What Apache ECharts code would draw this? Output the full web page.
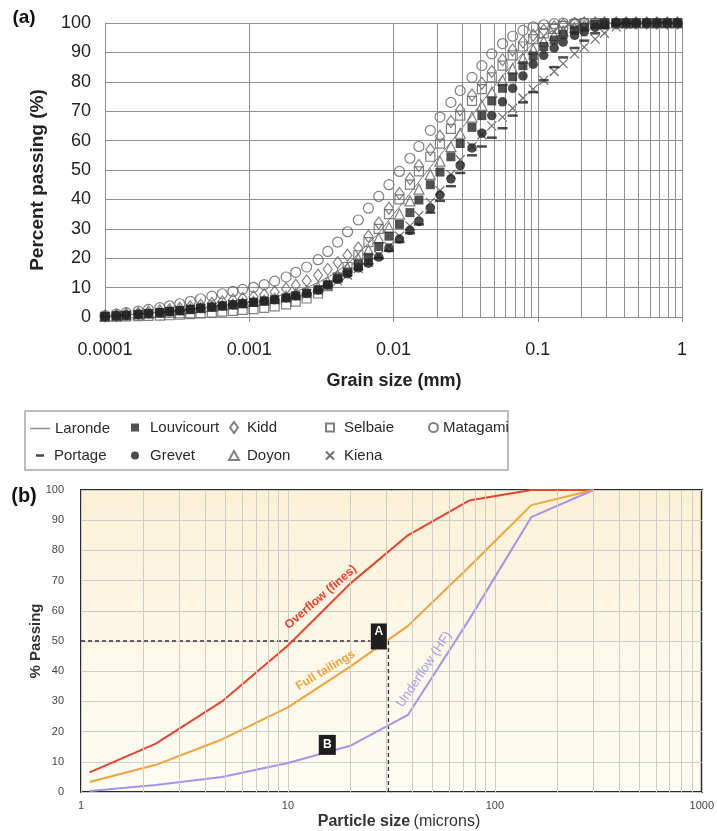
<!DOCTYPE html>
<html><head><meta charset="utf-8">
<script src="https://cdn.jsdelivr.net/npm/echarts@6/dist/echarts.min.js"></script>
<style>html,body{margin:0;padding:0;background:#fff}#c{width:717px;height:831px}</style>
</head><body><div id="c"></div><script>
// ---------- Panel (a): grain size distributions (mm, % passing) ----------
const sizesMm = [0.0001,0.00012,0.00014,0.00017,0.0002,0.00024,0.00028,0.00033,0.00039,0.00046,0.00055,0.00065,0.00077,0.0009,0.00107,0.00127,0.0015,0.0018,0.0021,0.0025,0.003,0.0035,0.0041,0.0048,0.0057,0.0067,0.0079,0.0093,0.011,0.013,0.015,0.018,0.021,0.025,0.029,0.035,0.041,0.048,0.057,0.067,0.079,0.093,0.11,0.13,0.15,0.18,0.21,0.25,0.29,0.35,0.41,0.48,0.57,0.67,0.79,0.93];
const laronde = [0.2,0.4,0.7,1,1.3,1.7,2,2.4,2.8,3.2,3.7,4.1,4.6,5,5.5,6.1,6.8,7.7,8.7,10,11.7,13.5,15.7,18,21.5,25,28.5,33,37.5,42,46,51,55,59.5,63.5,68.5,73,77.5,82,86,89.8,93,95.7,97.6,98.8,99.6,100,100,100,100,100,100,100,100,100,100];
const portage = [0.2,0.4,0.6,0.9,1.2,1.5,1.9,2.2,2.6,3,3.4,3.8,4.2,4.6,5,5.4,5.9,6.5,7.2,8,9,10.5,12.3,14.2,16.2,18,20,22.5,25.5,28.5,31.5,35.5,39.5,44.5,49,55,58,61,64.2,68.5,73,76.5,80.5,85,88.3,91.5,94,96.5,98.3,99.5,100,100,100,100,100,100];
const louvicourt = [0.2,0.4,0.6,0.9,1.2,1.5,1.9,2.2,2.6,3,3.4,3.8,4.2,4.6,5,5.4,5.9,6.5,7.2,8.1,9.3,11,13.3,15.3,18,20.3,24,27.5,31.5,35.5,39.8,45,49.3,54.5,59,64.5,68.5,73.5,77.8,81.7,85.5,88.8,92,94.2,96,97.6,98.6,99.5,100,100,100,100,100,100,100,100];
const grevet = [0.2,0.4,0.6,0.9,1.2,1.5,1.9,2.2,2.6,3,3.4,3.8,4.2,4.6,5,5.4,5.9,6.5,7.2,8,9.1,10.8,12.8,14.7,16.7,18.3,20.4,23.5,26.5,29.5,32.5,37,41.5,47,51.5,57.5,62.5,68.5,73.2,77.8,82,86,89,91.5,93.5,95.8,97,98.5,99.4,100,100,100,100,100,100,100];
const kidd = [0.3,0.6,0.9,1.3,1.7,2.1,2.5,3,3.5,4,4.6,5.2,5.8,6.3,6.9,7.6,8.5,9.6,10.8,12.3,14.2,16.2,18.5,21,23.5,27.5,32,37,42,47,51.5,57,61.5,66.5,70.5,75.5,79.5,83.5,87.5,90.8,93.5,95.8,97.5,98.7,99.4,99.8,100,100,100,100,100,100,100,100,100,100];
const doyon = [0.3,0.5,0.7,1,1.3,1.6,2,2.4,2.8,3.2,3.6,4,4.4,4.8,5.3,5.8,6.4,7.1,7.9,8.9,10.2,12,14.3,16.8,19.8,22.8,26.8,30.5,35,39.5,43.5,48.5,53,58,62.5,68,72,76.5,80.5,84.5,88,91,93.8,95.8,97.2,98.5,99.3,99.8,100,100,100,100,100,100,100,100];
const selbaie = [0,0.1,0.2,0.3,0.4,0.5,0.6,0.8,1,1.2,1.5,1.8,2.1,2.4,2.7,3.1,3.6,4.3,5.2,6.3,8,10.5,13.5,17,21,25.5,30,35,40,45,49.5,54.5,59,64,68.5,73.5,77.5,81.5,85.5,89,92,94.5,96.5,98,99,99.6,100,100,100,100,100,100,100,100,100,100];
const kiena = [0.1,0.3,0.5,0.8,1.1,1.4,1.8,2.1,2.5,2.9,3.3,3.7,4.1,4.5,4.9,5.3,5.8,6.4,7.1,7.9,9,10.5,12.3,14.3,16.5,18.5,21,24,27.5,31,34.5,39,43,48.5,53.5,58,62,65,68,71,74.5,77.5,80.5,83.5,86.2,89.5,91.8,94.5,96.5,98.7,99.6,100,100,100,100,100];
const matagami = [0.5,1,1.5,2,2.6,3.2,3.8,4.5,5.3,6.2,7.1,7.9,8.7,9.4,10.1,11,12.2,13.6,15.2,17,19.5,22.3,25.5,29,33,37,41,45,49.5,54,58,63.5,68,73,77,81.5,85.5,89.5,93,95.5,97.5,98.7,99.4,99.8,100,100,100,100,100,100,100,100,100,100,100,100];
const tickLabelsA = ['0.0001','0.001','0.01','0.1','1'];

// ---------- Panel (b): hydrocyclone split (microns, % passing) ----------
const sieveMicrons = [1.1, 2.3, 4.8, 10, 20, 38, 75, 150, 300];
const overflowFines = [6.5, 16, 30, 48.5, 69, 85, 96.5, 100, 100];
const fullTailings = [3.3, 9, 17.4, 28, 41.5, 55, 74.5, 95, 100];
const underflowHF = [0.3, 2.3, 5, 9.6, 15.3, 25.5, 57, 91, 100];
const d50Horizontal = [[1, 50], [25, 50]];
const d50Vertical = [[30.6, 50], [30.6, 0]];
const markerA = [27.5, 51.5];
const markerB = [15.5, 15.6];
const tickLabelsB = ['1', '10', '100', '1000'];

const FONT = "'Liberation Sans', Arial, sans-serif";

function pairs(xs, ys) { return xs.map((x, i) => [x, ys[i]]); }
function minorValues(fromExp, toExp) {
  const out = [];
  for (let e = fromExp; e < toExp; e++) for (let m = 2; m <= 9; m++) out.push(+(m * Math.pow(10, e)).toPrecision(3));
  return out;
}

const hollow = (c) => ({ color: 'rgba(255,255,255,0)', borderColor: c, borderWidth: 1.2 });
const XPATH = 'path://M0,0L10,10M0,10L10,0';

const seriesA = [
  { name: 'Matagami', type: 'scatter', symbol: 'circle', symbolSize: 10, itemStyle: hollow('#606060'), data: pairs(sizesMm, matagami), z: 3 },
  { name: 'Kidd', type: 'scatter', symbol: 'diamond', symbolSize: [9, 12], itemStyle: hollow('#606060'), data: pairs(sizesMm, kidd), z: 3 },
  { name: 'Selbaie', type: 'scatter', symbol: 'rect', symbolSize: 9, itemStyle: hollow('#606060'), data: pairs(sizesMm, selbaie), z: 3 },
  { name: 'Doyon', type: 'scatter', symbol: 'triangle', symbolSize: [10, 10], itemStyle: hollow('#606060'), data: pairs(sizesMm, doyon), z: 3 },
  { name: 'Laronde', type: 'line', symbol: 'none', showSymbol: false, lineStyle: { color: '#777', width: 1 }, itemStyle: { color: '#777' }, data: pairs(sizesMm, laronde), z: 4 },
  { name: 'Kiena', type: 'scatter', symbol: XPATH, symbolSize: 9, itemStyle: { color: 'rgba(0,0,0,0)', borderColor: '#4a4a4a', borderWidth: 1.2 }, data: pairs(sizesMm, kiena), z: 4 },
  { name: 'Portage', type: 'scatter', symbol: 'rect', symbolSize: [10, 2.5], itemStyle: { color: '#1e1e1e' }, data: pairs(sizesMm, portage), z: 5 },
  { name: 'Grevet', type: 'scatter', symbol: 'circle', symbolSize: 9.5, itemStyle: { color: '#1e1e1e' }, data: pairs(sizesMm, grevet), z: 5 },
  { name: 'Louvicourt', type: 'scatter', symbol: 'rect', symbolSize: 9, itemStyle: { color: '#262626' }, data: pairs(sizesMm, louvicourt), z: 5 }
];
seriesA.forEach(s => { s.xAxisIndex = 0; s.yAxisIndex = 0; s.animation = false; });

const gridLineA = '#8e8e8e';
const gridLineB = '#cfcdc6';

const minorA = {
  type: 'line', xAxisIndex: 0, yAxisIndex: 0, data: [], z: 1, silent: true,
  markLine: { silent: true, symbol: ['none', 'none'], label: { show: false }, animation: false,
    lineStyle: { color: gridLineA, width: 1, type: 'solid' },
    data: minorValues(-4, 0).map(v => ({ xAxis: v })) }
};
const minorB = {
  type: 'line', xAxisIndex: 1, yAxisIndex: 1, data: [], z: 1, silent: true,
  markLine: { silent: true, symbol: ['none', 'none'], label: { show: false }, animation: false,
    lineStyle: { color: gridLineB, width: 1, type: 'solid' },
    data: minorValues(0, 3).map(v => ({ xAxis: v })) }
};

function curveLabel(text, coord, rot, color, weight, size) {
  return { coord: coord, symbol: 'rect', symbolSize: 0,
    label: { show: true, position: 'inside', formatter: text, rotate: rot, color: color, fontWeight: weight, fontSize: size, fontFamily: FONT } };
}

const seriesB = [
  { name: 'Overflow (fines)', type: 'line', xAxisIndex: 1, yAxisIndex: 1, symbol: 'none', data: pairs(sieveMicrons, overflowFines),
    lineStyle: { color: '#e8432c', width: 2 }, z: 4,
    markPoint: { silent: true, animation: false, data: [curveLabel('Overflow (fines)', [14.4, 64.5], 41, '#e8432c', 'bold', 12)] } },
  { name: 'Full tailings', type: 'line', xAxisIndex: 1, yAxisIndex: 1, symbol: 'none', data: pairs(sieveMicrons, fullTailings),
    lineStyle: { color: '#f0a43a', width: 2 }, z: 4,
    markPoint: { silent: true, animation: false, data: [curveLabel('Full tailings', [15.2, 40.3], 31, '#eea23a', 'bold', 12)] } },
  { name: 'Underflow (HF)', type: 'line', xAxisIndex: 1, yAxisIndex: 1, symbol: 'none', data: pairs(sieveMicrons, underflowHF),
    lineStyle: { color: '#a196ea', width: 2 }, z: 4,
    markPoint: { silent: true, animation: false, data: [curveLabel('Underflow (HF)', [45.6, 40.6], 56, '#a79ce8', 'normal', 13)] } },
  { name: 'd50h', type: 'line', xAxisIndex: 1, yAxisIndex: 1, symbol: 'none', data: d50Horizontal,
    lineStyle: { color: '#333', width: 1.3, type: [4, 3] }, z: 3 },
  { name: 'd50v', type: 'line', xAxisIndex: 1, yAxisIndex: 1, symbol: 'none', data: d50Vertical,
    lineStyle: { color: '#333', width: 1.3, type: [4, 3] }, z: 3,
    markPoint: { silent: true, animation: false, symbol: 'rect', itemStyle: { color: '#1e1e1e' },
      data: [
        { coord: markerA, symbolSize: [16, 26], label: { show: true, formatter: 'A', color: '#fff', fontWeight: 'bold', fontSize: 12, fontFamily: FONT, offset: [0, -5] } },
        { coord: markerB, symbolSize: [17, 20], label: { show: true, formatter: 'B', color: '#fff', fontWeight: 'bold', fontSize: 12, fontFamily: FONT } }
      ] } }
];

// legends (a)
function lg(name, left, top, icon, w, h, pad, style) {
  const o = { show: true, data: [{ name: name, icon: icon }], left: left, top: top, orient: 'horizontal', padding: 0,
    itemWidth: w, itemHeight: h, selectedMode: false,
    textStyle: { fontSize: 15, fontFamily: FONT, color: '#2a2a2a', padding: [0, 0, 0, pad] } };
  if (style) o.itemStyle = style;
  return o;
}
const r1 = 420, r2 = 448;
const legends = [
  lg('Laronde', 30, r1 + 1, 'rect', 20, 1.5, 0, { color: '#888' }),
  lg('Louvicourt', 131, r1, 'rect', 8, 8, 6),
  lg('Kidd', 229, r1, 'diamond', 8, 11, 4),
  lg('Selbaie', 325, r1, 'rect', 8, 8, 5),
  lg('Matagami', 428, r1, 'circle', 9, 9, 0),
  lg('Portage', 36, r2, 'rect', 8, 2.5, 5),
  lg('Grevet', 131, r2, 'circle', 8, 8, 6),
  lg('Doyon', 228, r2, 'triangle', 10, 9, 3),
  lg('Kiena', 325, r2, XPATH, 8, 8, 5)
];

const option = {
  animation: false,
  backgroundColor: '#ffffff',
  legend: legends,
  grid: [
    { left: 105, top: 23, width: 577, height: 294, show: false },
    { left: 81, top: 490, width: 624, height: 302, show: true, borderColor: '#2a2a2a', borderWidth: 2,
      backgroundColor: { type: 'linear', x: 0, y: 0, x2: 0, y2: 1, colorStops: [
        { offset: 0, color: '#fbf1d7' }, { offset: 0.45, color: '#fdf7e6' }, { offset: 1, color: '#fefcf4' } ] } }
  ],
  xAxis: [
    { gridIndex: 0, type: 'log', logBase: 10, min: 0.0001, max: 1,
      axisLine: { show: true, lineStyle: { color: gridLineA } },
      axisTick: { show: true, length: 5, lineStyle: { color: gridLineA } },
      splitLine: { show: true, lineStyle: { color: gridLineA, width: 1 } },
      axisLabel: { fontSize: 18, fontFamily: FONT, color: '#222', margin: 24,
        formatter: v => tickLabelsA[Math.round(Math.log10(v)) + 4] } },
    { gridIndex: 1, type: 'log', logBase: 10, min: 1, max: 1000,
      axisLine: { show: false }, axisTick: { show: false },
      splitLine: { show: true, lineStyle: { color: gridLineB, width: 1 } },
      axisLabel: { fontSize: 11, fontFamily: FONT, color: '#444', margin: 8,
        formatter: v => tickLabelsB[Math.round(Math.log10(v))] } }
  ],
  yAxis: [
    { gridIndex: 0, type: 'value', min: 0, max: 100, interval: 10,
      axisLine: { show: true, lineStyle: { color: gridLineA } }, axisTick: { show: false },
      splitLine: { show: true, lineStyle: { color: gridLineA, width: 1 } },
      axisLabel: { fontSize: 18, fontFamily: FONT, color: '#222', margin: 14 } },
    { gridIndex: 1, type: 'value', min: 0, max: 100, interval: 10,
      axisLine: { show: false }, axisTick: { show: false },
      splitLine: { show: true, lineStyle: { color: gridLineB, width: 1 } },
      axisLabel: { fontSize: 11, fontFamily: FONT, color: '#444', margin: 17 } }
  ],
  graphic: [
    { type: 'text', x: 24, y: 18, style: { text: '(a)', font: 'bold 19px ' + FONT, fill: '#111', align: 'center', verticalAlign: 'middle' } },
    { type: 'text', x: 24, y: 496, style: { text: '(b)', font: 'bold 20px ' + FONT, fill: '#111', align: 'center', verticalAlign: 'middle' } },
    { type: 'text', x: 38, y: 180, rotation: Math.PI / 2, style: { text: 'Percent passing (%)', font: 'bold 19px ' + FONT, fill: '#222', align: 'center', verticalAlign: 'middle' } },
    { type: 'text', x: 394, y: 381, style: { text: 'Grain size (mm)', font: 'bold 18px ' + FONT, fill: '#222', align: 'center', verticalAlign: 'middle' } },
    { type: 'rect', shape: { x: 25, y: 411, width: 483, height: 59 }, style: { fill: 'none', stroke: '#a8a8a8', lineWidth: 1.5 }, z: 0 },
    { type: 'text', x: 36, y: 641, rotation: Math.PI / 2, style: { text: '% Passing', font: 'bold 15px ' + FONT, fill: '#333', align: 'center', verticalAlign: 'middle' } },
    { type: 'text', x: 399, y: 822, style: { text: '{b|Particle size} {n|(microns)}', align: 'center', verticalAlign: 'middle',
        rich: { b: { font: 'bold 16px ' + FONT, fill: '#333' }, n: { font: '16px ' + FONT, fill: '#333' } } } }
  ],
  series: [minorA, minorB].concat(seriesA, seriesB)
};

const chart = echarts.init(document.getElementById('c'), null, { renderer: 'canvas' });
chart.setOption(option);
</script></body></html>
